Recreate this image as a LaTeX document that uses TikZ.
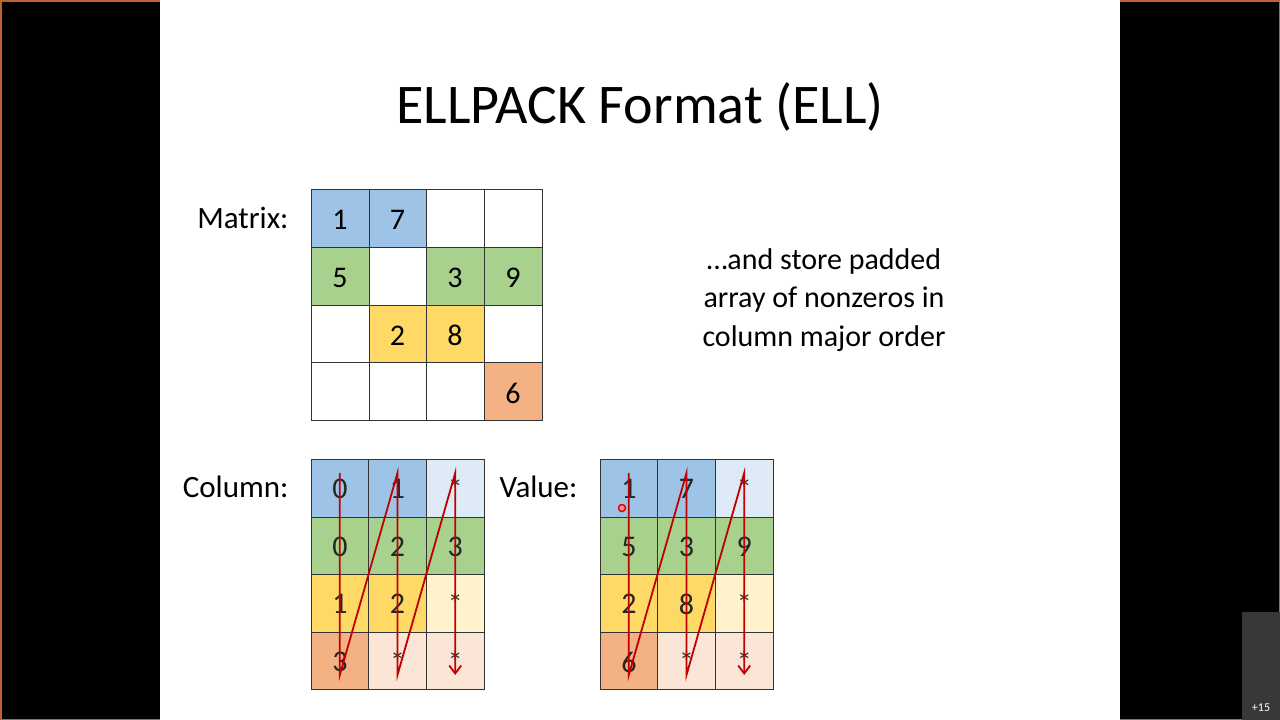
\documentclass[tikz,border=0pt]{standalone}
\usepackage{fontspec}
\setmainfont{Carlito}
\usetikzlibrary{arrows.meta}
\definecolor{B}{HTML}{9DC3E6}\definecolor{b}{HTML}{DEEBF7}
\definecolor{G}{HTML}{A9D18E}\definecolor{Y}{HTML}{FFD966}\definecolor{y}{HTML}{FFF2CC}
\definecolor{O}{HTML}{F4B183}\definecolor{o}{HTML}{FBE5D6}
\definecolor{frameor}{HTML}{C0622F}\definecolor{arr}{HTML}{C00000}
\begin{document}
\begin{tikzpicture}[x=1pt,y=-1pt,
  cell/.style={draw=black!80,line width=0.8pt},
  num/.style={font=\fontsize{30}{32}\selectfont},
  lbl/.style={font=\fontsize{31}{36}\selectfont,anchor=east},
  zz/.style={draw=arr,line width=1.8pt,-{Straight Barb[length=8pt,width=12pt,line width=1.8pt]}}]
\fill[black] (0,0) rectangle (1280,720);
\draw[frameor,line width=1.5pt] (0.75,0.75) rectangle (1279.25,719.25);
\fill[white] (160,0) rectangle (1120,720);
\fill[black!78] (1242,612) rectangle (1280,720);
\node[white,font=\fontsize{12}{14}\selectfont] (plus) at (1261,708) {+15};
\useasboundingbox (0,0) rectangle (1280,720);
\node[font=\fontsize{56}{60}\selectfont] (title) at (640,107) {ELLPACK Format (ELL)};
% matrix
\def\mx{{311,369,426,484,542}}\def\my{{189,247,305,362,420}}
\foreach \c/\i/\j/\t in {B/0/0/1,B/1/0/7,white/2/0/,white/3/0/,G/0/1/5,white/1/1/,G/2/1/3,G/3/1/9,white/0/2/,Y/1/2/2,Y/2/2/8,white/3/2/,white/0/3/,white/1/3/,white/2/3/,O/3/3/6}{
  \pgfmathsetmacro\xa{\mx[\i]}\pgfmathsetmacro\xb{\mx[\i+1]}
  \pgfmathsetmacro\ya{\my[\j]}\pgfmathsetmacro\yb{\my[\j+1]}
  \draw[cell,fill=\c] (\xa,\ya) rectangle (\xb,\yb);
  \node[num] at ({(\xa+\xb)/2},{(\ya+\yb)/2+2}) {\t};
}
\node[lbl] (ml) at (292,218) {Matrix:};
\node[align=center,font=\fontsize{30}{38.5}\selectfont] (txt) at (824,300) {…and store padded\\array of nonzeros in\\column major order};
% column/value tables
\def\ty{{459,517,574,632,689}}
\foreach \ox in {311,600}{
  \foreach \c [count=\k from 0] in {B,B,b,G,G,G,Y,Y,y,O,o,o}{
    \pgfmathtruncatemacro\i{mod(\k,3)}\pgfmathtruncatemacro\j{div(\k,3)}
    \pgfmathsetmacro\xa{\ox+\i*57.7}\pgfmathsetmacro\xb{\ox+(\i+1)*57.7}
    \pgfmathsetmacro\ya{\ty[\j]}\pgfmathsetmacro\yb{\ty[\j+1]}
    \draw[cell,fill=\c] (\xa,\ya) rectangle (\xb,\yb);
  }
}
\foreach \ox/\tab in {311/{0,1,*,0,2,3,1,2,*,3,*,*},600/{1,7,*,5,3,9,2,8,*,6,*,*}}{
  \foreach \t [count=\k from 0] in \tab{
    \pgfmathtruncatemacro\i{mod(\k,3)}\pgfmathtruncatemacro\j{div(\k,3)}
    \pgfmathsetmacro\xc{\ox+(\i+0.5)*57.7}\pgfmathsetmacro\yc{\ty[\j]+30}
    \node[num,text=black!85] at (\xc,\yc) {\t};
  }
  \coordinate (a1) at (\ox+28.8,473); \coordinate (a2) at (\ox+28.8,675);
  \coordinate (b1) at (\ox+86.5,473); \coordinate (b2) at (\ox+86.5,675);
  \coordinate (c1) at (\ox+144.2,473); \coordinate (c2) at (\ox+144.2,675);
  \draw[zz] (a1) -- (a2) -- (b1) -- (b2) -- (c1) -- (c2);
}
\node[lbl] (cl) at (292,487) {Column:};
\node[lbl] (vl) at (581,487) {Value:};
\draw[red!90!black,line width=1.5pt,fill=red!40] (622,508) circle (3.5);
\end{tikzpicture}
\end{document}
